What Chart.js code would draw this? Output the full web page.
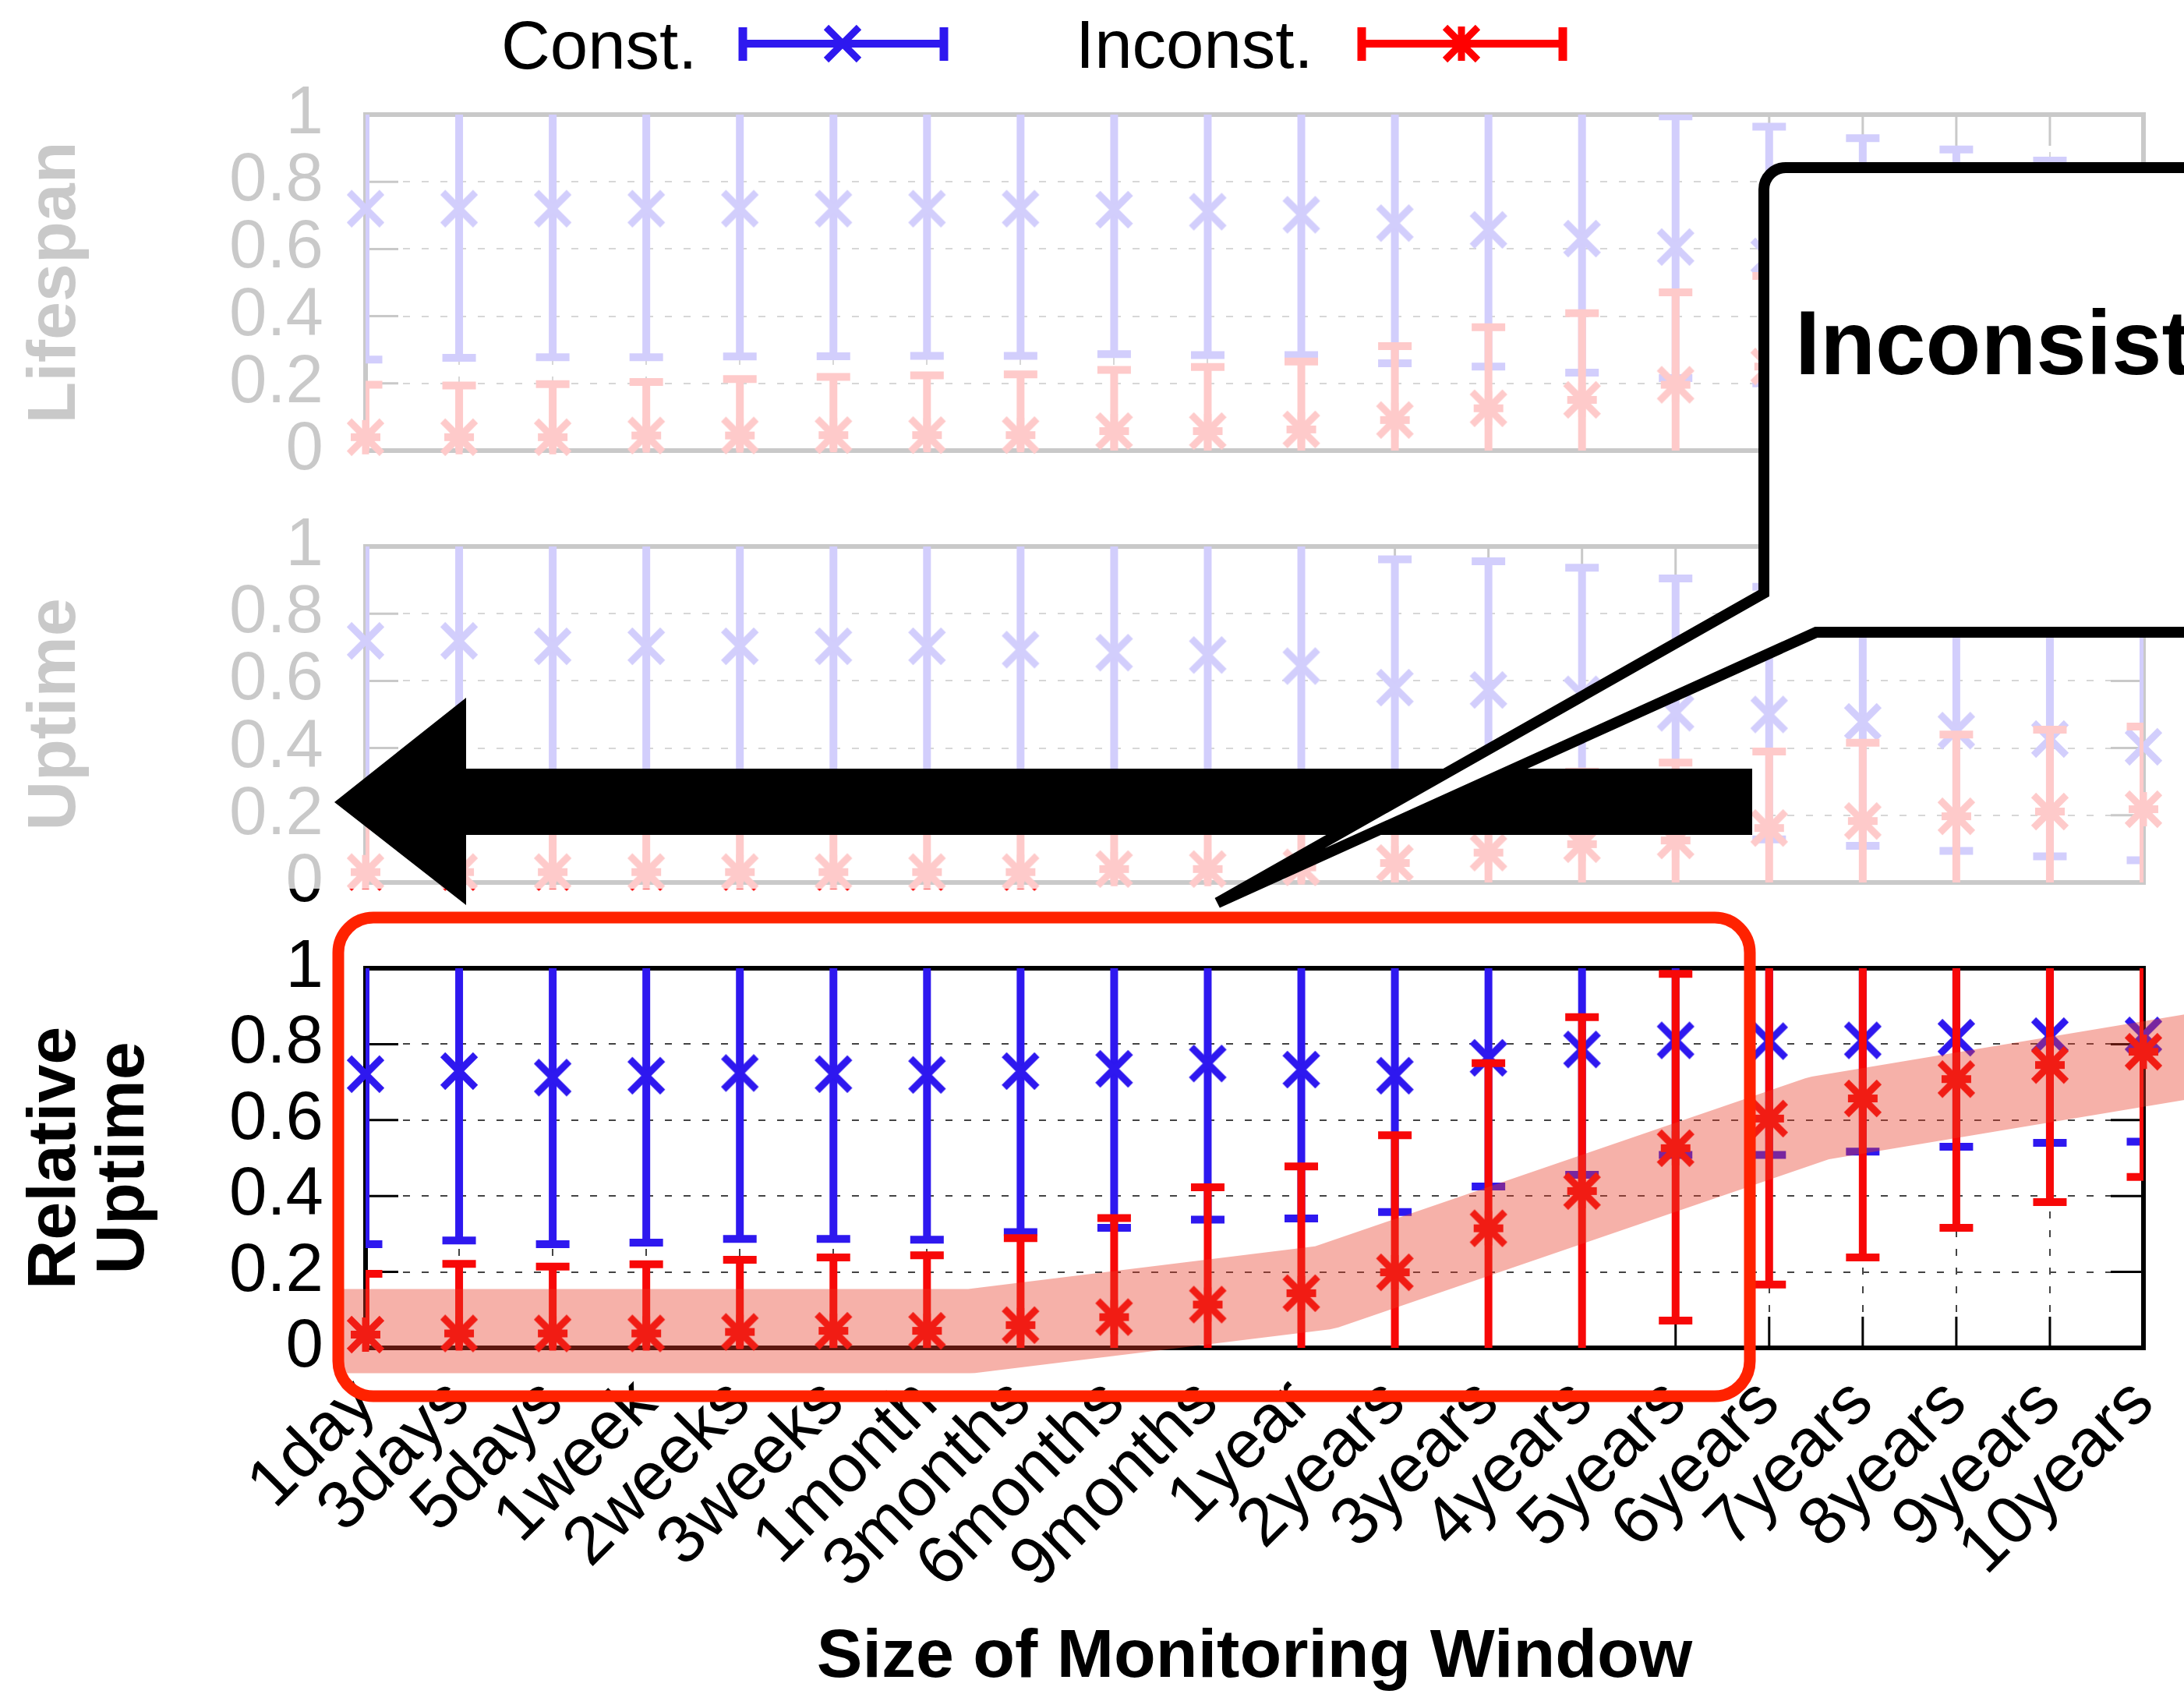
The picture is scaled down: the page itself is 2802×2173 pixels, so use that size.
<!DOCTYPE html>
<html>
<head>
<meta charset="utf-8">
<title>Size of Monitoring Window</title>
<script src="https://cdn.jsdelivr.net/npm/chart.js@4.4.1/dist/chart.umd.min.js"></script>
<style>
    html, body { margin: 0; padding: 0; background: #fff; }
    #page { position: relative; width: 2802px; height: 2173px; overflow: hidden; background: #fff; }
    .panel { position: absolute; left: 0; width: 2950px; }
    .panel canvas { display: block; }
    #fade { position: absolute; left: 0; top: 95px; width: 2802px; height: 1045px; background: rgba(255, 255, 255, 0.79); }
    #notes { position: absolute; left: 0; top: 0; }
</style>
</head>
<body>
<div id="page">
    <div class="panel" style="top:0;height:640px"><canvas id="lifespanChart" width="2950" height="640"></canvas></div>
    <div class="panel" style="top:640px;height:540px"><canvas id="uptimeChart" width="2950" height="540"></canvas></div>
    <div class="panel" style="top:1180px;height:993px"><canvas id="relativeChart" width="2950" height="993"></canvas></div>
    <div id="fade"></div>
    <svg id="notes" width="2802" height="2173" viewBox="0 0 2802 2173" font-family="'Liberation Sans', Arial, sans-serif">
        <!-- legend -->
        <text x="643" y="88" font-size="87" fill="#000">Const.</text>
        <g stroke="#2e18ef" fill="none">
            <line x1="953" y1="56" x2="1211" y2="56" stroke-width="10"/>
            <line x1="953" y1="35" x2="953" y2="78" stroke-width="11"/>
            <line x1="1211" y1="35" x2="1211" y2="78" stroke-width="11"/>
            <path d="M1060 35 L1102 77 M1102 35 L1060 77" stroke-width="9"/>
        </g>
        <text x="1380" y="87" font-size="87" fill="#000">Inconst.</text>
        <g stroke="#ff0000" fill="none">
            <line x1="1747" y1="56" x2="2005" y2="56" stroke-width="10"/>
            <line x1="1747" y1="35" x2="1747" y2="78" stroke-width="11"/>
            <line x1="2005" y1="35" x2="2005" y2="78" stroke-width="11"/>
            <path d="M1854 35 L1896 77 M1896 35 L1854 77 M1875 34 L1875 78" stroke-width="9"/>
        </g>
        <!-- big arrow -->
        <polygon points="429,1029 598,895 598,986 2248,986 2248,1071 598,1071 598,1161" fill="#000"/>
        <!-- callout -->
        <path d="M2900,215 H2291 A28,28 0 0 0 2263,243 V761 L1562,1158 L2330,811 H2900 Z" fill="#fff" stroke="#000" stroke-width="14"/>
        <text x="2303" y="480" font-size="116" font-weight="bold" fill="#000">Inconsistent</text>
        <!-- highlight box -->
        <rect x="434" y="1177" width="1811" height="614" rx="45" ry="45" fill="none" stroke="#ff2200" stroke-width="15"/>
    </svg>
</div>
<script>
const labels = ['1day', '3days', '5days', '1week', '2weeks', '3weeks', '1month', '3months', '6months', '9months',
    '1year', '2years', '3years', '4years', '5years', '6years', '7years', '8years', '9years', '10years'];

// Lifespan (top panel)
const lifeConstMid = [0.72, 0.72, 0.72, 0.72, 0.72, 0.72, 0.72, 0.72, 0.717, 0.711, 0.702, 0.677, 0.657, 0.631, 0.606, 0.578, 0.555, 0.535, 0.515, 0.495];
const lifeConstLow = [0.271, 0.276, 0.278, 0.278, 0.28, 0.281, 0.282, 0.282, 0.287, 0.284, 0.284, 0.26, 0.25, 0.232, 0.216, 0.2, 0.185, 0.17, 0.16, 0.15];
const lifeConstHigh = [1, 1, 1, 1, 1, 1, 1, 1, 1, 1, 1, 1, 1, 1, 0.995, 0.964, 0.93, 0.896, 0.863, 0.835];
const lifeInconstMid = [0.04, 0.04, 0.04, 0.045, 0.045, 0.046, 0.046, 0.046, 0.058, 0.058, 0.063, 0.091, 0.126, 0.151, 0.196, 0.25, 0.27, 0.29, 0.31, 0.33];
const lifeInconstLow = [0, 0, 0, 0, 0, 0, 0, 0, 0, 0, 0, 0, 0, 0, 0, 0, 0, 0, 0, 0];
const lifeInconstHigh = [0.196, 0.194, 0.198, 0.204, 0.213, 0.219, 0.224, 0.227, 0.24, 0.249, 0.265, 0.311, 0.367, 0.409, 0.471, 0.52, 0.56, 0.6, 0.63, 0.66];

// Uptime (middle panel)
const upConstMid = [0.719, 0.719, 0.703, 0.703, 0.703, 0.703, 0.703, 0.693, 0.684, 0.677, 0.644, 0.58, 0.573, 0.56, 0.505, 0.5, 0.478, 0.452, 0.427, 0.404];
const upConstLow = [0.27, 0.27, 0.27, 0.27, 0.27, 0.27, 0.27, 0.27, 0.26, 0.25, 0.24, 0.21, 0.19, 0.17, 0.16, 0.128, 0.109, 0.094, 0.078, 0.066];
const upConstHigh = [1, 1, 1, 1, 1, 1, 1, 1, 1, 1, 1, 0.962, 0.956, 0.937, 0.905, 0.88, 0.85, 0.82, 0.79, 0.76];
const upInconstMid = [0.031, 0.031, 0.031, 0.031, 0.031, 0.031, 0.031, 0.031, 0.04, 0.04, 0.045, 0.058, 0.089, 0.114, 0.125, 0.162, 0.183, 0.197, 0.211, 0.218];
const upInconstLow = [0, 0, 0, 0, 0, 0, 0, 0, 0, 0, 0, 0, 0, 0, 0, 0, 0, 0, 0, 0];
const upInconstHigh = [0.19, 0.19, 0.19, 0.19, 0.2, 0.2, 0.2, 0.21, 0.22, 0.23, 0.25, 0.27, 0.3, 0.33, 0.357, 0.39, 0.416, 0.44, 0.455, 0.464];

// Relative Uptime (bottom panel)
const relConstMid = [0.721, 0.729, 0.712, 0.717, 0.724, 0.721, 0.719, 0.729, 0.735, 0.749, 0.733, 0.717, 0.764, 0.786, 0.81, 0.808, 0.81, 0.817, 0.821, 0.823];
const relConstLow = [0.273, 0.283, 0.273, 0.277, 0.287, 0.287, 0.285, 0.305, 0.316, 0.338, 0.341, 0.358, 0.425, 0.456, 0.508, 0.508, 0.517, 0.53, 0.54, 0.543];
const relConstHigh = [1, 1, 1, 1, 1, 1, 1, 1, 1, 1, 1, 1, 1, 1, 1, 1, 1, 1, 1, 1];
const relInconstMid = [0.035, 0.038, 0.038, 0.038, 0.042, 0.045, 0.045, 0.06, 0.081, 0.114, 0.144, 0.199, 0.315, 0.413, 0.526, 0.604, 0.657, 0.708, 0.745, 0.78];
const relInconstLow = [0, 0, 0, 0, 0, 0, 0, 0, 0, 0, 0, 0, 0, 0, 0.072, 0.167, 0.238, 0.316, 0.384, 0.45];
const relInconstHigh = [0.195, 0.221, 0.214, 0.22, 0.232, 0.238, 0.244, 0.289, 0.342, 0.423, 0.478, 0.56, 0.75, 0.871, 0.985, 1, 1, 1, 1, 1];

// highlighted trend band over the bottom panel (x in category index units)
const bandX = [-0.27, 6.46, 10.25, 15.53, 20.2];
const bandY = [0.044, 0.044, 0.159, 0.605, 0.797];

const BLUE = '#2e18ef';
const RED = '#f70808';
const FONT = "'Liberation Sans', Arial, sans-serif";

Chart.defaults.font.family = FONT;
Chart.defaults.color = '#000';

// gnuplot-like point glyphs: x for Const., * for Inconst.
function makeGlyph(color, star) {
    const c = document.createElement('canvas');
    c.width = 60;
    c.height = 60;
    const g = c.getContext('2d');
    g.translate(30, 30);
    g.strokeStyle = color;
    g.lineCap = 'butt';
    g.lineWidth = 9;
    g.beginPath();
    g.moveTo(-21, -21); g.lineTo(21, 21);
    g.moveTo(21, -21); g.lineTo(-21, 21);
    if (star) {
        g.moveTo(0, -22); g.lineTo(0, 22);
    }
    g.stroke();
    if (star) {
        g.lineWidth = 10;
        g.beginPath();
        g.moveTo(-19, 0); g.lineTo(19, 0);
        g.stroke();
    }
    return c;
}
const crossBlue = makeGlyph(BLUE, false);
const starRed = makeGlyph(RED, true);

const toPoints = arr => arr.map((v, i) => ({ x: i, y: v }));

// error bars, drawn just under each dataset's markers
const errorBars = {
    id: 'errorBars',
    beforeDatasetDraw(chart, args) {
        const ds = chart.data.datasets[args.index];
        if (!ds.errLow) return;
        const { ctx, chartArea: a, scales: { x, y } } = chart;
        ctx.save();
        ctx.beginPath();
        ctx.rect(a.left, a.top, a.right - a.left, a.bottom - a.top);
        ctx.clip();
        ctx.strokeStyle = ds.errColor;
        ctx.lineWidth = 10;
        ctx.lineCap = 'butt';
        ds.errLow.forEach((lo, i) => {
            const hi = ds.errHigh[i];
            const px = x.getPixelForValue(i);
            const pLo = y.getPixelForValue(lo);
            const pHi = y.getPixelForValue(hi);
            ctx.beginPath();
            ctx.moveTo(px, pLo); ctx.lineTo(px, pHi);
            if (lo > 0) { ctx.moveTo(px - 21.5, pLo); ctx.lineTo(px + 21.5, pLo); }
            if (hi < 1) { ctx.moveTo(px - 21.5, pHi); ctx.lineTo(px + 21.5, pHi); }
            ctx.stroke();
        });
        ctx.restore();
    }
};

// closed frame with inward tick marks
const frame = {
    id: 'frame',
    beforeDatasetsDraw(chart) {
        const { ctx, chartArea: a, scales: { x, y } } = chart;
        ctx.save();
        ctx.strokeStyle = '#000';
        ctx.lineWidth = 3;
        ctx.beginPath();
        y.ticks.forEach(t => {
            if (t.value <= 0 || t.value >= 1) return;
            const py = y.getPixelForValue(t.value);
            ctx.moveTo(a.left, py); ctx.lineTo(a.left + 42, py);
            ctx.moveTo(a.right - 42, py); ctx.lineTo(a.right, py);
        });
        labels.forEach((l, i) => {
            const px = x.getPixelForValue(i);
            ctx.moveTo(px, a.bottom); ctx.lineTo(px, a.bottom - 40);
            ctx.moveTo(px, a.top); ctx.lineTo(px, a.top + 40);
        });
        ctx.stroke();
        ctx.lineWidth = 6;
        ctx.strokeRect(a.left, a.top, a.right - a.left, a.bottom - a.top);
        ctx.restore();
    }
};

function buildPanel(canvasId, p) {
    const datasets = [
        { label: 'Const.', data: toPoints(p.cMid), errLow: p.cLow, errHigh: p.cHigh, errColor: BLUE, pointStyle: crossBlue, order: 3 },
        { label: 'Inconst.', data: toPoints(p.iMid), errLow: p.iLow, errHigh: p.iHigh, errColor: RED, pointStyle: starRed, order: 2 }
    ];
    datasets.forEach(d => Object.assign(d, { showLine: false, pointRadius: 4, pointHoverRadius: 4, clip: false }));
    if (p.band) {
        datasets.push({
            label: 'trend',
            data: bandX.map((v, i) => ({ x: v, y: bandY[i] })),
            showLine: true,
            borderColor: 'rgba(232, 60, 40, 0.4)',
            borderWidth: 108,
            borderCapStyle: 'butt',
            borderJoinStyle: 'bevel',
            pointRadius: 0,
            tension: 0,
            clip: false,
            order: 1
        });
    }

    return new Chart(document.getElementById(canvasId), {
        type: 'line',
        data: { datasets: datasets },
        options: {
            responsive: false,
            animation: false,
            devicePixelRatio: 1,
            events: [],
            layout: { padding: p.padding, autoPadding: false },
            plugins: { legend: { display: false }, tooltip: { enabled: false } },
            scales: {
                x: {
                    type: 'linear',
                    min: 0,
                    max: labels.length - 1,
                    border: { display: false, dash: [9, 15] },
                    grid: { color: '#444', lineWidth: 2, drawTicks: false },
                    ticks: {
                        display: p.showX,
                        stepSize: 1,
                        autoSkip: false,
                        maxTicksLimit: 40,
                        minRotation: 45,
                        maxRotation: 45,
                        padding: 56,
                        font: { size: 87, lineHeight: 0.05 },
                        callback: v => labels[v]
                    },
                    title: {
                        display: p.showX,
                        text: 'Size of Monitoring Window',
                        font: { size: 88, weight: 'bold', lineHeight: 1 },
                        padding: { top: 0, bottom: 2 }
                    },
                    afterFit: s => { s.height = p.xHeight; }
                },
                y: {
                    min: 0,
                    max: 1,
                    border: { display: false, dash: [9, 15] },
                    // invisible outer tick length keeps the labels off the frame
                    grid: { color: '#444', lineWidth: 2, drawTicks: true, tickLength: 54, tickColor: 'rgba(0,0,0,0)' },
                    ticks: {
                        stepSize: 0.2,
                        autoSkip: false,
                        padding: 0,
                        font: { size: 87, lineHeight: 1 },
                        callback: v => String(Math.round(v * 10) / 10)
                    },
                    title: {
                        display: true,
                        text: p.title,
                        font: { size: 88, weight: 'bold', lineHeight: 1 },
                        padding: { top: 28, bottom: 0 }
                    },
                    afterFit: s => { s.width = 469; }
                }
            }
        },
        plugins: [errorBars, frame]
    });
}

buildPanel('lifespanChart', {
    title: 'Lifespan',
    cMid: lifeConstMid, cLow: lifeConstLow, cHigh: lifeConstHigh,
    iMid: lifeInconstMid, iLow: lifeInconstLow, iHigh: lifeInconstHigh,
    padding: { left: 0, top: 147, right: 200, bottom: 62 },
    showX: false, xHeight: 0
});

buildPanel('uptimeChart', {
    title: 'Uptime',
    cMid: upConstMid, cLow: upConstLow, cHigh: upConstHigh,
    iMid: upInconstMid, iLow: upInconstLow, iHigh: upInconstHigh,
    padding: { left: 0, top: 61, right: 200, bottom: 48 },
    showX: false, xHeight: 0
});

buildPanel('relativeChart', {
    title: ['Relative', 'Uptime'],
    cMid: relConstMid, cLow: relConstLow, cHigh: relConstHigh,
    iMid: relInconstMid, iLow: relInconstLow, iHigh: relInconstHigh,
    padding: { left: 0, top: 62, right: 200, bottom: 0 },
    showX: true, xHeight: 444, band: true
});
</script>
</body>
</html>
